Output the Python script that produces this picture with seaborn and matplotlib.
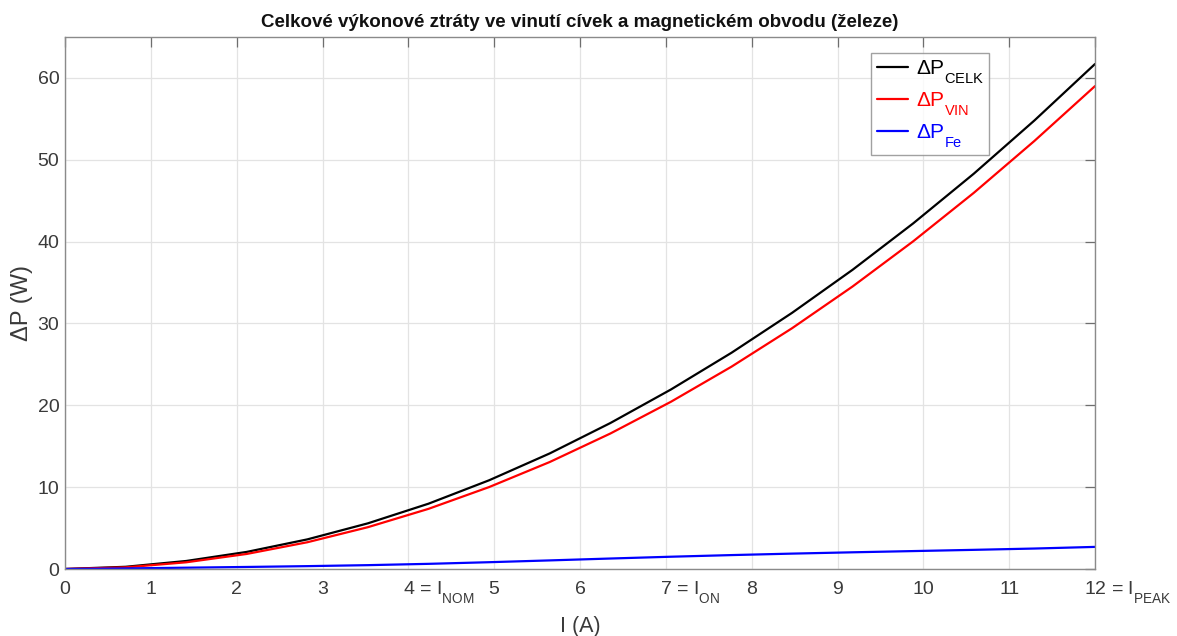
import matplotlib
matplotlib.use("Agg")
import matplotlib.pyplot as plt
from matplotlib import _mathtext
from matplotlib.transforms import ScaledTranslation
import seaborn as sns
import pandas as pd

# Current (A)
proud = [0.0, 0.706, 1.412, 2.118, 2.824, 3.529, 4.235, 4.941, 5.647,
         6.353, 7.059, 7.765, 8.471, 9.176, 9.882, 10.588, 11.294, 12.0]
# Winding (copper) losses (W)
p_vin = [0.0, 0.20, 0.82, 1.84, 3.27, 5.11, 7.35, 10.01, 13.07,
         16.55, 20.43, 24.72, 29.42, 34.52, 40.04, 45.96, 52.30, 59.00]
# Iron losses (W)
p_fe = [0.0, 0.07, 0.16, 0.25, 0.35, 0.47, 0.63, 0.83, 1.05,
        1.28, 1.50, 1.70, 1.88, 2.04, 2.19, 2.34, 2.50, 2.70]
# Total losses (W)
p_celk = [0.0, 0.27, 0.98, 2.09, 3.62, 5.58, 7.98, 10.84, 14.12,
          17.83, 21.93, 26.42, 31.30, 36.56, 42.23, 48.30, 54.80, 61.70]

x_ticks = [0, 1, 2, 3, 4, 5, 6, 7, 8, 9, 10, 11, 12]
x_ticklabels = ["0", "1", "2", "3", r"4 = I$_{\mathrm{NOM}}$", "5", "6",
                r"7 = I$_{\mathrm{ON}}$", "8", "9", "10", "11",
                r"12 = I$_{\mathrm{PEAK}}$"]
y_ticks = [0, 10, 20, 30, 40, 50, 60]

series_labels = [r"ΔP$_{\mathrm{CELK}}$", r"ΔP$_{\mathrm{VIN}}$", r"ΔP$_{\mathrm{Fe}}$"]
series_colors = ["#000000", "#ff0000", "#0000ff"]

sns.set_theme(style="white")
plt.rcParams["font.family"] = ["Liberation Sans", "DejaVu Sans"]
plt.rcParams["mathtext.fontset"] = "custom"
plt.rcParams["mathtext.rm"] = "Liberation Sans"
plt.rcParams["mathtext.it"] = "Liberation Sans:italic"
plt.rcParams["mathtext.bf"] = "Liberation Sans:bold"
# deeper subscripts (TeX-interpreter look)
_mathtext.FontConstantsBase.sub1 = 0.9

df = pd.DataFrame({"I": proud, "celk": p_celk, "vin": p_vin, "fe": p_fe})

DPI = 100
fig = plt.figure(figsize=(11.77, 6.36), dpi=DPI)
ax = fig.add_axes([65 / 1177, 67 / 636, 1030 / 1177, 532 / 636])

for col, lab, c in zip(["celk", "vin", "fe"], series_labels, series_colors):
    sns.lineplot(data=df, x="I", y=col, ax=ax, color=c, linewidth=1.6,
                 label=lab)

ax.set_xlim(0, 12)
ax.set_ylim(0, 65)
ax.set_xticks(x_ticks)
ax.set_xticklabels(x_ticklabels)
ax.set_yticks(y_ticks)

tick_gray = "#3a3a3a"
tick_fs = 14
ax.tick_params(axis="both", direction="in", length=7, width=0.9,
               colors="#6e6e6e", labelcolor=tick_gray, labelsize=tick_fs,
               top=True, right=True)
ax.tick_params(axis="y", pad=4)
ax.tick_params(axis="x", pad=0)

# baseline-aligned x tick labels; the number of the special ticks stays
# centred on its tick mark
digit_w = tick_fs * 0.556
down = -25 / DPI
for lbl, t in zip(ax.get_xticklabels(), x_ticks):
    lbl.set_verticalalignment("baseline")
    dx = 0.0
    if "=" in lbl.get_text():
        lbl.set_horizontalalignment("left")
        dx = -len(str(t)) * digit_w / 2 / 72
    lbl.set_transform(lbl.get_transform() +
                      ScaledTranslation(dx, down, fig.dpi_scale_trans))

for s in ax.spines.values():
    s.set_color("#8a8a8a")
    s.set_linewidth(1.0)

ax.grid(True, color="#e3e3e3", linewidth=0.9)
ax.set_axisbelow(True)

ax.set_xlabel("I (A)", fontsize=15.5, color=tick_gray)
ax.xaxis.set_label_coords(0.5, -0.088)
ax.set_ylabel("ΔP (W)", fontsize=17, color=tick_gray, labelpad=3)
ax.set_title("Celkové výkonové ztráty ve vinutí cívek a magnetickém obvodu (železe)",
             fontsize=13.5, fontweight="bold", color="#111111", pad=7)

leg = ax.legend(loc="upper right", bbox_to_anchor=(0.8975, 0.970),
                fontsize=15, frameon=True, fancybox=False,
                handlelength=1.5, handletextpad=0.4, borderpad=0.25,
                labelspacing=0.2, borderaxespad=0)
leg.get_frame().set_edgecolor("#8a8a8a")
leg.get_frame().set_linewidth(1.0)
for txt, c in zip(leg.get_texts(), series_colors):
    txt.set_color(c)

fig.savefig("out.png", dpi=DPI)
